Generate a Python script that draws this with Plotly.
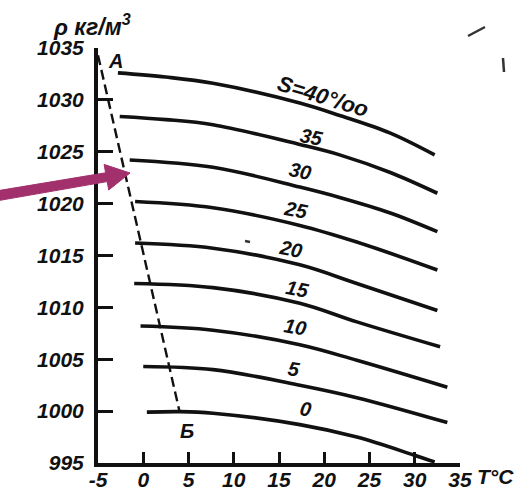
import plotly.graph_objects as go

# Density of sea water rho (kg/m3) against temperature T (deg C), one curve per salinity S (per mille)
t_s40 = [-2.8, 2.5, 7.7, 17.3, 21.7, 27.3, 32.2]
rho_s40 = [1032.6, 1032.2, 1031.6, 1029.7, 1028.5, 1026.8, 1024.7]

t_s35 = [-2.6, 2.5, 7.7, 17.3, 21.7, 27.3, 32.5]
rho_s35 = [1028.4, 1028.1, 1027.6, 1025.7, 1024.7, 1023.0, 1021.0]

t_s30 = [-1.5, 7.7, 17.3, 21.7, 27.3, 32.5]
rho_s30 = [1024.2, 1023.5, 1021.6, 1020.6, 1019.1, 1017.3]

t_s25 = [-0.9, 7.7, 17.3, 23.6, 32.5]
rho_s25 = [1020.2, 1019.6, 1017.9, 1016.3, 1013.6]

t_s20 = [-0.9, 7.7, 17.3, 23.6, 32.5]
rho_s20 = [1016.2, 1015.7, 1014.1, 1012.3, 1009.7]

t_s15 = [-1.0, 7.7, 17.3, 23.6, 32.8]
rho_s15 = [1012.3, 1011.9, 1010.4, 1008.6, 1006.2]

t_s10 = [-0.3, 7.7, 17.3, 23.6, 33.6]
rho_s10 = [1008.2, 1007.8, 1006.4, 1004.9, 1002.3]

t_s5 = [0.0, 7.7, 17.3, 23.6, 33.6]
rho_s5 = [1004.3, 1004.0, 1002.5, 1001.3, 998.9]

t_s0 = [0.4, 4.1, 7.7, 17.3, 23.6, 29.8, 32.2]
rho_s0 = [999.9, 999.95, 999.8, 998.7, 997.5, 995.8, 995.1]

# Line of maximum density, from A to B
tmax_t = [-5.0, 4.0]
tmax_rho = [1034.3, 1000.0]

# Curve labels: text, T, rho, angle
curve_labels = ["S=40°/oo", "35", "30", "25", "20", "15", "10", "5", "0"]
label_t = [19.9, 18.6, 17.3, 16.9, 16.3, 17.0, 16.8, 16.7, 17.9]
label_rho = [1030.3, 1026.4, 1023.1, 1019.4, 1015.6, 1011.8, 1008.1, 1004.1, 1000.2]
label_angle = [17, 11, 11, 11, 11, 11, 10, 9, 9]
label_size = [22, 20, 20, 20, 20, 20, 20, 20, 20]

x_ticks = [-5, 0, 5, 10, 15, 20, 25, 30, 35]
y_ticks = [995, 1000, 1005, 1010, 1015, 1020, 1025, 1030, 1035]

W, H = 529, 490
ML, MR, MT, MB = 98, 69, 48, 27
PW, PH = W - ML - MR, H - MT - MB


def px(x, y):
    """Page pixel position -> paper coordinates."""
    return (x - ML) / PW, (H - MB - y) / PH


INK = "#111111"
FONT = dict(family="Liberation Sans, Arial, sans-serif", color=INK, size=21,
            weight="bold", style="italic")

fig = go.Figure()

curves = [(t_s40, rho_s40), (t_s35, rho_s35), (t_s30, rho_s30), (t_s25, rho_s25),
          (t_s20, rho_s20), (t_s15, rho_s15), (t_s10, rho_s10), (t_s5, rho_s5),
          (t_s0, rho_s0)]
for t, rho in curves:
    fig.add_trace(go.Scatter(x=t, y=rho, mode="lines",
                             line=dict(color=INK, width=3.6, shape="spline", smoothing=1.0),
                             cliponaxis=False, hoverinfo="skip"))

fig.add_trace(go.Scatter(x=tmax_t, y=tmax_rho, mode="lines",
                         line=dict(color=INK, width=2.4, dash="10px,5px"),
                         cliponaxis=False, hoverinfo="skip"))

annotations = []
for txt, t, r, a, s in zip(curve_labels, label_t, label_rho, label_angle, label_size):
    annotations.append(dict(x=t, y=r, xref="x", yref="y", text=txt, showarrow=False,
                            xanchor="center", yanchor="middle",
                            textangle=a, font=dict(FONT, size=s)))

annotations.append(dict(x=-3.1, y=1033.7, xref="x", yref="y", text="A", showarrow=False,
                        xanchor="center", yanchor="middle", font=dict(FONT, size=20)))
annotations.append(dict(x=4.8, y=998.1, xref="x", yref="y", text="Б", showarrow=False,
                        xanchor="center", yanchor="middle", font=dict(FONT, size=20)))

tx, ty = px(92, 25)
annotations.append(dict(x=tx, y=ty, xref="paper", yref="paper", text="ρ кг/м<sup>3</sup>",
                        showarrow=False, xanchor="center", yanchor="middle",
                        font=dict(FONT, size=23)))
tx, ty = px(495, 477)
annotations.append(dict(x=tx, y=ty, xref="paper", yref="paper", text="T°C",
                        showarrow=False, xanchor="center", yanchor="middle",
                        font=dict(FONT, size=21)))

# Pointer arrow
arrow_px = [(-4, 191.0), (105.6, 172.8), (104.1, 164.4), (130, 173),
            (108.7, 190.0), (107.2, 181.6), (-4, 201.0)]
pts = [px(x, y) for x, y in arrow_px]
path = "M " + " L ".join(f"{x:.4f},{y:.4f}" for x, y in pts) + " Z"
shapes = [dict(type="path", path=path, xref="paper", yref="paper",
               fillcolor="#a2306c", line=dict(color="#a2306c", width=1), layer="above")]

# small specks on the sheet
for (x0, y0, x1, y1) in [(468, 36, 485, 27), (503, 58, 504, 72), (245, 241, 250, 242)]:
    a0, b0 = px(x0, y0)
    a1, b1 = px(x1, y1)
    shapes.append(dict(type="line", x0=a0, y0=b0, x1=a1, y1=b1, xref="paper", yref="paper",
                       line=dict(color="#333333", width=2.5)))

fig.update_layout(
    width=W, height=H,
    margin=dict(l=ML, r=MR, t=MT, b=MB, pad=0, autoexpand=False),
    paper_bgcolor="white", plot_bgcolor="white",
    showlegend=False,
    annotations=annotations,
    shapes=shapes,
    xaxis=dict(range=[-5, 35], tickvals=x_ticks, ticktext=[str(v) for v in x_ticks],
               showgrid=False, zeroline=False, showline=True, linecolor=INK, linewidth=4,
               ticks="inside", ticklen=11, tickwidth=3, tickcolor=INK,
               tickfont=FONT, ticklabelstandoff=-5, automargin=False),
    yaxis=dict(range=[995, 1035], tickvals=y_ticks, ticktext=[str(v) for v in y_ticks],
               showgrid=False, zeroline=False, showline=True, linecolor=INK, linewidth=4,
               ticks="inside", ticklen=15, tickwidth=3, tickcolor=INK,
               tickfont=FONT, ticklabelstandoff=6, automargin=False),
)

fig.write_html("out.html")
